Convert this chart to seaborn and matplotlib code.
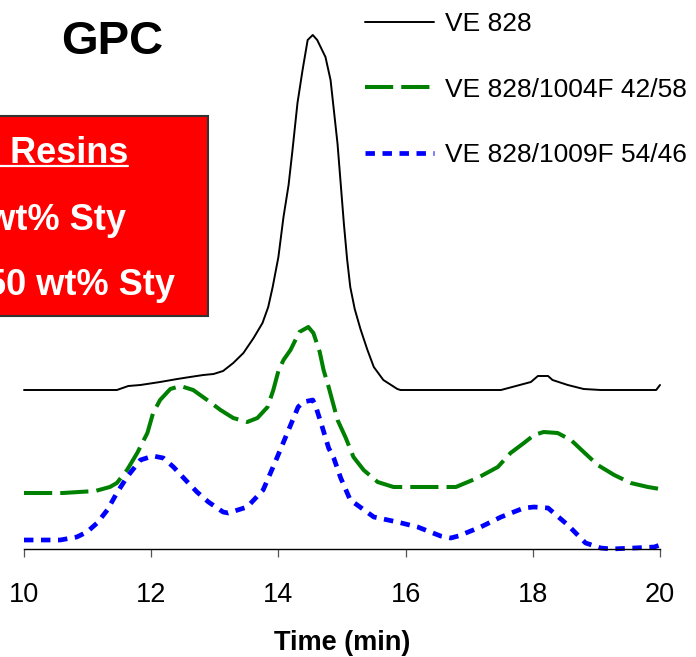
import pandas as pd
import matplotlib
import matplotlib.pyplot as plt
from matplotlib.patches import Rectangle
from matplotlib.lines import Line2D
import seaborn as sns

# GPC traces (time in min, detector signal in arbitrary units)
black_time = [10.00, 11.46, 11.64, 11.83, 12.14, 12.41, 12.61, 12.82, 12.98, 13.13,
              13.29, 13.45, 13.61, 13.75, 13.84, 13.91, 14.00, 14.08, 14.16, 14.22,
              14.30, 14.38, 14.46, 14.54, 14.61, 14.74, 14.82, 14.87, 14.93, 14.98,
              15.03, 15.08, 15.13, 15.20, 15.29, 15.40, 15.50, 15.65, 15.87, 15.92,
              17.50, 17.97, 18.08, 18.24, 18.31, 18.55, 18.80, 19.07, 19.94, 20.00]
black_signal = [159, 159, 163, 164, 167, 170, 172, 174, 175, 178,
                186, 196, 211, 226, 242, 262, 292, 332, 364, 398,
                446, 479, 509, 514, 509, 492, 469, 440, 405, 365,
                325, 290, 262, 240, 220, 199, 182, 169, 160, 159,
                159, 167, 173, 173, 169, 164, 160, 159, 159, 164]

green_time = [10.00, 10.61, 11.12, 11.35, 11.46, 11.62, 11.78, 11.94, 12.03, 12.14,
              12.30, 12.46, 12.66, 12.88, 13.09, 13.29, 13.51, 13.67, 13.83, 13.92,
              14.00, 14.08, 14.19, 14.33, 14.47, 14.55, 14.65, 14.71, 14.79, 14.93,
              15.06, 15.18, 15.34, 15.56, 15.81, 16.24, 16.79, 17.13, 17.45, 17.65,
              17.86, 18.02, 18.17, 18.39, 18.60, 18.80, 19.02, 19.28, 19.54, 19.81, 20.00]
green_signal = [56, 56, 58, 62, 66, 79, 96, 116, 136, 149,
                160, 163, 159, 149, 139, 131, 127, 131, 142, 159,
                178, 189, 199, 217, 222, 216, 197, 179, 162, 129,
                111, 92, 79, 67, 62, 62, 62, 71, 82, 96,
                106, 114, 117, 116, 109, 97, 84, 74, 66, 62, 60]

blue_time = [10.00, 10.57, 10.83, 10.99, 11.15, 11.31, 11.46, 11.62, 11.83, 12.03,
             12.19, 12.35, 12.54, 12.72, 12.90, 13.13, 13.21, 13.51, 13.76, 13.95,
             14.14, 14.31, 14.39, 14.54, 14.58, 14.68, 14.79, 14.87, 14.98, 15.13,
             15.24, 15.50, 15.87, 16.19, 16.55, 16.71, 16.83, 17.18, 17.50, 17.86,
             18.02, 18.24, 18.55, 18.83, 19.07, 19.23, 19.59, 19.91, 20.00]
blue_signal = [9, 9, 12, 17, 26, 39, 56, 72, 89, 93,
               91, 82, 69, 57, 47, 37, 36, 42, 59, 87,
               116, 142, 147, 149, 144, 124, 101, 91, 71, 49,
               44, 32, 27, 22, 13, 11, 13, 22, 32, 41,
               42, 41, 24, 6, 1, 0, 1, 2, 4]

labels = ["VE 828", "VE 828/1004F 42/58", "VE 828/1009F 54/46"]
x_ticks = [10, 12, 14, 16, 18, 20]
box_lines = ["VE Resins", "45 wt% Sty", "50 wt% Sty"]

sns.set_style("white")
plt.rcParams['font.family'] = ['Liberation Sans', 'DejaVu Sans']
plt.rcParams['text.color'] = 'black'
plt.rcParams['axes.labelcolor'] = 'black'
plt.rcParams['xtick.labelcolor'] = 'black'

W, H = 696, 657
fig = plt.figure(figsize=(W / 100, H / 100), dpi=100)
ax = fig.add_axes([24 / W, 108 / H, 636 / W, 549 / H])

df_black = pd.DataFrame({"time": black_time, "signal": black_signal})
df_green = pd.DataFrame({"time": green_time, "signal": green_signal})
df_blue = pd.DataFrame({"time": blue_time, "signal": blue_signal})

sns.lineplot(data=df_black, x="time", y="signal", ax=ax, color="black",
             linewidth=1.4, sort=False, clip_on=False)
sns.lineplot(data=df_green, x="time", y="signal", ax=ax, color="#008000",
             linewidth=2.9, sort=False, dashes=(7, 2), clip_on=False)
sns.lineplot(data=df_blue, x="time", y="signal", ax=ax, color="#0000FF",
             linewidth=3.4, sort=False, dashes=(2, 1.6), clip_on=False)

ax.set_xlim(10, 20)
ax.set_ylim(0, 549)
ax.set_xticks(x_ticks)
ax.set_xticklabels([str(t) for t in x_ticks])
ax.set_yticks([])
ax.set_ylabel("")
ax.set_xlabel("Time (min)", fontsize=19.5, fontweight="bold", labelpad=16,
              color="black")
ax.tick_params(axis="x", direction="out", length=6, width=0.9, color="#555555",
               labelsize=19.5, pad=17.5, bottom=True, labelcolor="black")
for side in ["left", "right", "top"]:
    ax.spines[side].set_visible(False)
ax.spines["bottom"].set_color("black")
ax.spines["bottom"].set_linewidth(1.0)

lines = ax.get_lines()
leg = ax.legend(lines[:3], labels, loc="upper left",
                bbox_to_anchor=(365 / W, (H - 12) / H),
                bbox_transform=fig.transFigure, frameon=False, fontsize=19,
                handlelength=2.6, handletextpad=0.45, labelspacing=1.58,
                borderpad=0, borderaxespad=0)
for txt in leg.get_texts():
    txt.set_color("black")

# title
fig.text(112 / W, (H - 54) / H, "GPC", ha="center", va="baseline",
         fontsize=34, fontweight="bold", color="black")

# red box, cut off at the left edge
fig.patches.append(Rectangle((-20 / W, (H - 316) / H), 228 / W, 200 / H,
                             transform=fig.transFigure, facecolor="#FF0000",
                             edgecolor="#333333", linewidth=1.5, zorder=1))
fig.text(128 / W, (H - 163) / H, box_lines[0], ha="right", va="baseline",
         fontsize=26, fontweight="bold", color="white", zorder=2)
fig.lines.append(Line2D([-10 / W, 128 / W], [(H - 166) / H, (H - 166) / H],
                        transform=fig.transFigure, color="white", linewidth=1.6, zorder=2))
fig.text(126 / W, (H - 230) / H, box_lines[1], ha="right", va="baseline",
         fontsize=26, fontweight="bold", color="white", zorder=2)
fig.text(175 / W, (H - 295) / H, box_lines[2], ha="right", va="baseline",
         fontsize=26, fontweight="bold", color="white", zorder=2)

fig.savefig("out.png", dpi=100)
